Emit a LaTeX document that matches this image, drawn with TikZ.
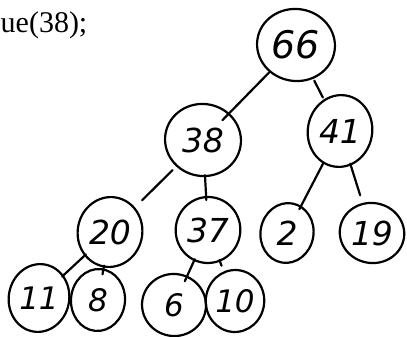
\documentclass[tikz,border=0pt]{standalone}
\usepackage{fontspec}
\setmainfont{Liberation Serif}
\newfontfamily\handfont{DejaVu Sans}
\usetikzlibrary{shapes.geometric}
\tikzset{
  heapnode/.style={ellipse, draw=black, line width=2.2pt, inner sep=0pt,
    font=\handfont\itshape\fontsize{33}{33}\selectfont},
  bignode/.style={heapnode, font=\handfont\itshape\fontsize{38}{38}\selectfont},
  leafnode/.style={heapnode, font=\handfont\itshape\fontsize{31}{31}\selectfont},
  link/.style={line width=2.2pt, line cap=round}
}
\begin{document}
\begin{tikzpicture}[x=1pt, y=-1pt]
  \useasboundingbox (0,0) rectangle (407,337);
  \fill[white] (0,0) rectangle (407,337);

  % fragment of the code line above the tree
  \node[anchor=base west, inner sep=0pt, font=\fontsize{30}{30}\selectfont] (code) at (0.5,33) {ue(38);};

  % the heap
  \node[bignode, minimum width=78pt, minimum height=72pt, rotate=-8] (n66) at (296,45) {\rotatebox{8}{66}};
  \node[heapnode, minimum width=76pt, minimum height=72pt, rotate=-10] (n38) at (203,140) {\rotatebox{10}{38}};
  \node[heapnode, minimum width=64pt, minimum height=72pt, rotate=-10] (n41) at (340,131) {\rotatebox{10}{41}};
  \node[heapnode, minimum width=64pt, minimum height=70pt, rotate=-10] (n20) at (110,232) {\rotatebox{10}{20}};
  \node[heapnode, minimum width=64pt, minimum height=66pt, rotate=-10] (n37) at (208,230) {\rotatebox{10}{37}};
  \node[heapnode, minimum width=53pt, minimum height=60pt, rotate=-10] (n2) at (287,233) {\rotatebox{10}{2}};
  \node[heapnode, minimum width=64pt, minimum height=60pt, rotate=-10] (n19) at (372,233) {\rotatebox{10}{19}};
  \node[leafnode, minimum width=58pt, minimum height=68pt, rotate=-10] (n11) at (39,298) {\rotatebox{10}{11}};
  \node[leafnode, minimum width=54pt, minimum height=62pt, rotate=-5] (n8) at (98,300) {\rotatebox{5}{8}};
  \node[leafnode, minimum width=64pt, minimum height=62pt, rotate=-10] (n6) at (174,305) {\rotatebox{10}{6}};
  \node[leafnode, minimum width=58pt, minimum height=62pt, rotate=-5] (n10) at (235,301) {\rotatebox{5}{10}};

  % connections between parents and children
  \draw[link, shorten <=0pt, shorten >=-10pt] (n66) -- (n38);
  \draw[link, shorten <=2pt, shorten >=2pt] (n66) -- (n41);
  \draw[link, shorten <=5pt, shorten >=10pt] (n38) -- (n20);
  \draw[link, shorten <=-2pt, shorten >=-4pt] (n38) -- (n37);
  \draw[link, shorten <=0pt, shorten >=-4pt] (n41) -- (n2);
  \draw[link, shorten <=-2pt, shorten >=8pt] (n41) -- (n19);
  \draw[link, shorten <=-2pt, shorten >=-2pt] (n20) -- (n11);
  \draw[link, shorten <=-2pt, shorten >=-6pt] (n20) -- (n8);
  \draw[link, shorten <=-2pt, shorten >=-6pt] (n37) -- (n6);
  \draw[link, shorten <=-2pt, shorten >=6pt] (n37) -- (n10);
\end{tikzpicture}
\end{document}
